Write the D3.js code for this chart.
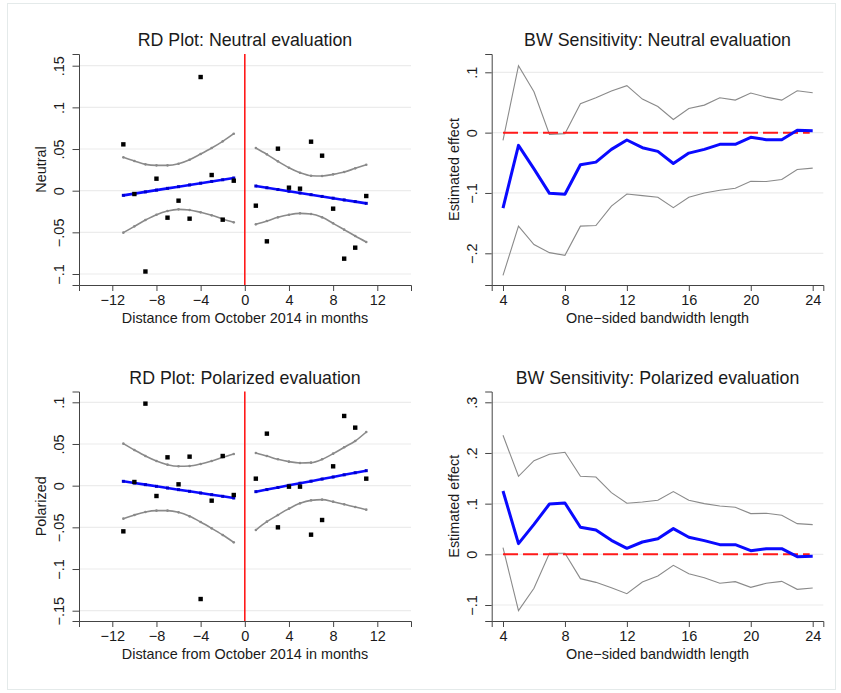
<!DOCTYPE html>
<html><head><meta charset="utf-8">
<script src="https://cdn.jsdelivr.net/npm/d3@7"></script>
<style>
body{margin:0;background:#fff}
svg{display:block}
text{font-family:"Liberation Sans",Arial,Helvetica,sans-serif;fill:#1a1a1a}
</style></head><body>
<svg id="c" width="841" height="693"></svg>
<script>
// ---------- DATA ----------
const binX = [-11,-10,-9,-8,-7,-6,-5,-4,-3,-2,-1,1,2,3,4,5,6,7,8,9,10,11];
const fitXLeft = [-11,-10,-9,-8,-7,-6,-5,-4,-3,-2,-1];
const fitXRight = [1,2,3,4,5,6,7,8,9,10,11];

const neutralBinY = [0.0556,-0.004,-0.097,0.0144,-0.0324,-0.012,-0.0336,0.1364,0.0188,-0.0348,0.012,
                     -0.018,-0.0608,0.0504,0.0036,0.0024,0.0588,0.042,-0.0216,-0.0816,-0.0684,-0.0064];
const neutralFitL = [-0.0056,-0.0035,-0.0014,0.0007,0.0028,0.0048,0.0069,0.0090,0.0111,0.0131,0.0152];
const neutralHiL  = [0.040,0.0356,0.0316,0.0304,0.0304,0.0324,0.0372,0.044,0.0512,0.0592,0.0684];
const neutralLoL  = [-0.0504,-0.0428,-0.0352,-0.0288,-0.0244,-0.0224,-0.0232,-0.026,-0.0296,-0.034,-0.038];
const neutralFitR = [0.0056,0.0035,0.0014,-0.0007,-0.0028,-0.0048,-0.0069,-0.0090,-0.0111,-0.0131,-0.0152];
const neutralHiR  = [0.0512,0.0436,0.0352,0.0276,0.0216,0.018,0.0176,0.0196,0.0224,0.0268,0.0312];
const neutralLoR  = [-0.0404,-0.0364,-0.032,-0.0288,-0.0272,-0.028,-0.032,-0.0392,-0.0468,-0.0544,-0.0616];

const polarBinY = [-0.0548,0.0044,0.0984,-0.0124,0.034,0.0016,0.0348,-0.136,-0.018,0.0356,-0.0112,
                   0.0084,0.0624,-0.05,-0.0012,-0.0012,-0.0588,-0.0412,0.0232,0.0836,0.0696,0.0084];
const polarFitL = [0.0052,0.0032,0.0012,-0.0008,-0.0028,-0.0048,-0.0068,-0.0088,-0.0108,-0.0128,-0.0148];
const polarHiL  = [0.0504,0.0428,0.0356,0.0296,0.0252,0.0232,0.0236,0.026,0.0296,0.034,0.038];
const polarLoL  = [-0.0396,-0.0352,-0.0316,-0.030,-0.030,-0.032,-0.0368,-0.0436,-0.0512,-0.0592,-0.068];
const polarFitR = [-0.0072,-0.0047,-0.0022,0.0004,0.0029,0.0054,0.0079,0.0104,0.0130,0.0155,0.018];
const polarHiR  = [0.0392,0.0356,0.0316,0.0288,0.0272,0.0276,0.0316,0.0384,0.046,0.0536,0.0644];
const polarLoR  = [-0.0532,-0.0432,-0.0352,-0.0276,-0.0212,-0.0176,-0.0168,-0.0192,-0.0224,-0.0256,-0.0288];

const bwX = [4,5,6,7,8,9,10,11,12,13,14,15,16,17,18,19,20,21,22,23,24];
const bwNeutralEst = [-0.125,-0.0211,-0.06,-0.1006,-0.1022,-0.0533,-0.0489,-0.0278,-0.0122,-0.025,-0.0311,-0.0511,-0.0339,-0.0278,-0.0194,-0.0194,-0.0078,-0.0117,-0.0117,0.0039,0.0033];
const bwNeutralHi  = [-0.0128,0.111,0.0678,-0.0028,-0.0017,0.0478,0.0578,0.0689,0.0778,0.0556,0.0433,0.0217,0.040,0.0456,0.0578,0.0539,0.0656,0.0589,0.0539,0.0694,0.0661];
const bwNeutralLo  = [-0.2367,-0.155,-0.1856,-0.1989,-0.2033,-0.155,-0.1539,-0.1217,-0.1017,-0.1044,-0.1072,-0.1244,-0.1072,-0.100,-0.0956,-0.0922,-0.0806,-0.0811,-0.0778,-0.0611,-0.0589];
const bwPolarEst = [0.125,0.0211,0.0592,0.0993,0.1013,0.0533,0.048,0.0276,0.0118,0.0243,0.0309,0.0507,0.0336,0.027,0.0191,0.0191,0.0072,0.0112,0.0112,-0.0046,-0.0039];
const bwPolarHi  = [0.2349,0.154,0.1849,0.1974,0.2013,0.154,0.1526,0.1217,0.1007,0.1033,0.1066,0.1237,0.1066,0.100,0.0954,0.0928,0.0803,0.0809,0.077,0.0605,0.0586];
const bwPolarLo  = [0.0132,-0.1112,-0.0671,0.002,0.002,-0.048,-0.0553,-0.0658,-0.0776,-0.0546,-0.0428,-0.0217,-0.0382,-0.0461,-0.0572,-0.0539,-0.0651,-0.0572,-0.0533,-0.0691,-0.0664];

const rdXTicks = [-12,-8,-4,0,4,8,12];
const rdXTickLabels = ["\u221212","\u22128","\u22124","0","4","8","12"];
const bwXTicks = [4,8,12,16,20,24];
const bwXTickLabels = ["4","8","12","16","20","24"];
const neutralYTicks = [-0.1,-0.05,0,0.05,0.1,0.15];
const neutralYTickLabels = ["\u2212.1","\u2212.05","0",".05",".1",".15"];
const polarYTicks = [-0.15,-0.1,-0.05,0,0.05,0.1];
const polarYTickLabels = ["\u2212.15","\u2212.1","\u2212.05","0",".05",".1"];
const bwNeutralYTicks = [-0.2,-0.1,0,0.1];
const bwNeutralYTickLabels = ["\u2212.2","\u2212.1","0",".1"];
const bwPolarYTicks = [-0.1,0,0.1,0.2,0.3];
const bwPolarYTickLabels = ["\u2212.1","0",".1",".2",".3"];

const titles = ["RD Plot: Neutral evaluation","BW Sensitivity: Neutral evaluation",
                "RD Plot: Polarized evaluation","BW Sensitivity: Polarized evaluation"];
const rdXTitle = "Distance from October 2014 in months";
const bwXTitle = "One\u2212sided bandwidth length";
const yTitles = ["Neutral","Estimated effect","Polarized","Estimated effect"];

// ---------- DRAW ----------
const svg = d3.select("#c");
svg.append("rect").attr("x",7.5).attr("y",3.5).attr("width",828).attr("height",686)
  .attr("fill","none").attr("stroke","#e4eaea").attr("stroke-width",1);

function anchored(v1,p1,v2,p2,pa,pb){
  const s = d3.scaleLinear().domain([v1,v2]).range([p1,p2]);
  return d3.scaleLinear().domain([s.invert(pa), s.invert(pb)]).range([pa,pb]);
}

function frame(cfg){
  const g = svg.append("g");
  const x = anchored(cfg.xa[0],cfg.xa[1],cfg.xa[2],cfg.xa[3],cfg.left,cfg.right);
  const y = anchored(cfg.ya[0],cfg.ya[1],cfg.ya[2],cfg.ya[3],cfg.bottom,cfg.top);
  g.append("g").selectAll("line").data(cfg.yTicks).join("line")
    .attr("x1",cfg.left).attr("x2",cfg.right)
    .attr("y1",d=>y(d)).attr("y2",d=>y(d))
    .attr("stroke","#ececec").attr("stroke-width",1.2);
  const xa = g.append("g").attr("transform",`translate(0,${cfg.bottom})`)
    .call(d3.axisBottom(x).tickValues(cfg.xTicks).tickSize(6).tickPadding(4)
      .tickFormat((d,i)=>cfg.xLabels[i]));
  xa.select(".domain").attr("stroke","#444");
  xa.selectAll(".tick line").attr("stroke","#444");
  xa.selectAll(".tick text").attr("font-size","14.5px").attr("fill","#1a1a1a")
    .attr("font-family",'"Liberation Sans",Arial,sans-serif');
  const ya = g.append("g").attr("transform",`translate(${cfg.left},0)`)
    .call(d3.axisLeft(y).tickValues(cfg.yTicks).tickSize(6.5).tickFormat(""));
  ya.select(".domain").attr("stroke","#444");
  ya.selectAll(".tick line").attr("stroke","#444");
  ya.selectAll(".tick").append("text")
    .attr("transform","rotate(-90)").attr("x",0).attr("y",-15)
    .attr("text-anchor","middle").attr("font-size","14.5px").attr("fill","#1a1a1a")
    .text((d,i)=>cfg.yLabels[i]);
  g.append("text").attr("x",(cfg.left+cfg.right)/2).attr("y",cfg.top-8)
    .attr("text-anchor","middle").attr("font-size","17.8px").text(cfg.title);
  g.append("text").attr("x",(cfg.left+cfg.right)/2).attr("y",cfg.bottom+38)
    .attr("text-anchor","middle").attr("font-size","14.4px").text(cfg.xTitle);
  g.append("text").attr("transform",`translate(${cfg.left-33},${(cfg.top+cfg.bottom)/2}) rotate(-90)`)
    .attr("text-anchor","middle").attr("font-size","14.4px").text(cfg.yTitle);
  return {g,x,y};
}

function rdPanel(cfg, binY, fitL, hiL, loL, fitR, hiR, loR){
  const {g,x,y} = frame(cfg);
  const line = d3.line().x(d=>x(d[0])).y(d=>y(d[1]));
  g.append("line").attr("x1",x(0)).attr("x2",x(0)).attr("y1",cfg.top).attr("y2",cfg.bottom)
    .attr("stroke","#ff1a1a").attr("stroke-width",1.6);
  const sides = [[fitXLeft,fitL,hiL,loL],[fitXRight,fitR,hiR,loR]];
  sides.forEach(([xs,f,hi,lo])=>{
    [hi,lo].forEach(arr=>{
      const pts = xs.map((v,i)=>[v,arr[i]]);
      g.append("path").attr("d",d3.line().curve(d3.curveMonotoneX).x(d=>x(d[0])).y(d=>y(d[1]))(pts))
        .attr("fill","none").attr("stroke","#8a8a8a").attr("stroke-width",1.6);
      g.append("g").selectAll("circle").data(pts).join("circle")
        .attr("cx",d=>x(d[0])).attr("cy",d=>y(d[1])).attr("r",1.3).attr("fill","#8a8a8a");
    });
    const pts = xs.map((v,i)=>[v,f[i]]);
    g.append("path").attr("d",line(pts)).attr("fill","none")
      .attr("stroke","#0a0aff").attr("stroke-width",2.6);
    g.append("g").selectAll("rect").data(pts).join("rect")
      .attr("x",d=>x(d[0])-1.5).attr("y",d=>y(d[1])-1.5).attr("width",3).attr("height",3).attr("fill","#0000cc");
  });
  g.append("g").selectAll("rect").data(binX.map((v,i)=>[v,binY[i]])).join("rect")
    .attr("x",d=>x(d[0])-2.2).attr("y",d=>y(d[1])-2.2).attr("width",4.4).attr("height",4.4)
    .attr("fill","#000");
}

function bwPanel(cfg, est, hi, lo){
  const {g,x,y} = frame(cfg);
  const line = d3.line().x(d=>x(d[0])).y(d=>y(d[1]));
  [hi,lo].forEach(arr=>{
    g.append("path").attr("d",line(bwX.map((v,i)=>[v,arr[i]]))).attr("fill","none")
      .attr("stroke","#8a8a8a").attr("stroke-width",1.1);
  });
  g.append("line").attr("x1",x(bwX[0])).attr("x2",x(bwX[bwX.length-1])-3)
    .attr("y1",y(0)).attr("y2",y(0))
    .attr("stroke","#ff1a1a").attr("stroke-width",2).attr("stroke-dasharray","15,5");
  g.append("path").attr("d",line(bwX.map((v,i)=>[v,est[i]]))).attr("fill","none")
    .attr("stroke","#0a0aff").attr("stroke-width",3).attr("stroke-linejoin","round");
}

const L = {left:79,right:411}, R = {left:491.7,right:823.3};
const T = {top:54,bottom:285}, B = {top:391.5,bottom:621};

rdPanel(Object.assign({}, L, T, {xa:[-12,112.3,12,377.3], ya:[-0.1,274,0.15,65.7],
  xTicks:rdXTicks, xLabels:rdXTickLabels, yTicks:neutralYTicks, yLabels:neutralYTickLabels,
  title:titles[0], xTitle:rdXTitle, yTitle:yTitles[0]}),
  neutralBinY, neutralFitL, neutralHiL, neutralLoL, neutralFitR, neutralHiR, neutralLoR);

bwPanel(Object.assign({}, R, T, {xa:[4,503,24,812.7], ya:[-0.2,253.3,0.1,72.3],
  xTicks:bwXTicks, xLabels:bwXTickLabels, yTicks:bwNeutralYTicks, yLabels:bwNeutralYTickLabels,
  title:titles[1], xTitle:bwXTitle, yTitle:yTitles[1]}),
  bwNeutralEst, bwNeutralHi, bwNeutralLo);

rdPanel(Object.assign({}, L, B, {xa:[-12,112.3,12,377.3], ya:[-0.15,610.7,0.1,402.3],
  xTicks:rdXTicks, xLabels:rdXTickLabels, yTicks:polarYTicks, yLabels:polarYTickLabels,
  title:titles[2], xTitle:rdXTitle, yTitle:yTitles[2]}),
  polarBinY, polarFitL, polarHiL, polarLoL, polarFitR, polarHiR, polarLoR);

bwPanel(Object.assign({}, R, B, {xa:[4,503,24,812.7], ya:[-0.1,605,0.3,402.3],
  xTicks:bwXTicks, xLabels:bwXTickLabels, yTicks:bwPolarYTicks, yLabels:bwPolarYTickLabels,
  title:titles[3], xTitle:bwXTitle, yTitle:yTitles[3]}),
  bwPolarEst, bwPolarHi, bwPolarLo);
</script></body></html>
